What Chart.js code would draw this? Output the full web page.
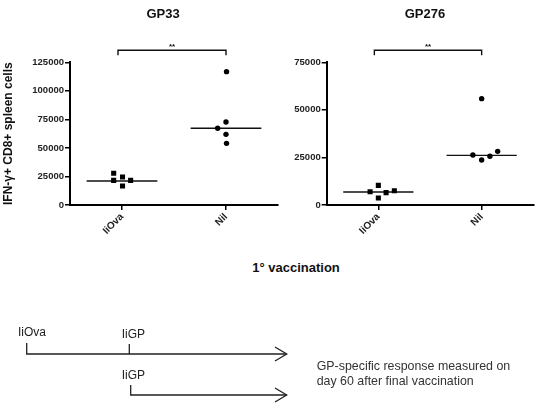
<!DOCTYPE html>
<html>
<head>
<meta charset="utf-8">
<script src="https://cdn.jsdelivr.net/npm/chart.js@4.4.1/dist/chart.umd.min.js"></script>
<style>
  body { margin: 0; background: #fff; font-family: "Liberation Sans", Arial, sans-serif; }
  #wrap { position: relative; width: 551px; height: 407px; overflow: hidden; }
  canvas { position: absolute; top: 0; }
  #c1 { left: 0; }
  #c2 { left: 275px; }
  .title { position: absolute; top: 6px; font-weight: bold; font-size: 13px; color: #111; transform: translateX(-50%); }
  #xtitle { position: absolute; left: 296px; top: 260px; font-weight: bold; font-size: 13px; color: #111; transform: translateX(-50%); white-space: nowrap; }
  svg { position: absolute; left: 0; top: 0; }
</style>
</head>
<body>
<div id="wrap">
  <canvas id="c1" width="282" height="250"></canvas>
  <canvas id="c2" width="276" height="250"></canvas>
  <div class="title" style="left:163px">GP33</div>
  <div class="title" style="left:425px">GP276</div>
  <div id="xtitle">1° vaccination</div>
  <svg width="551" height="407" font-family="Liberation Sans, Arial, sans-serif" font-size="12" fill="#222">
    <g stroke="#222" stroke-width="1.3" fill="none">
      <path d="M26.7 343 V354 H286.7" />
      <path d="M129.3 344 V354" />
      <path d="M275 347 L286.7 354 L275 361" />
      <path d="M130.7 385 V395 H286.7" />
      <path d="M275 388 L286.7 395 L275 402" />
    </g>
    <text x="18" y="336">IiOva</text>
    <text x="121.7" y="337.5">IiGP</text>
    <text x="121.7" y="379">IiGP</text>
    <text x="316.7" y="369.5" font-size="12.4" fill="#333">GP-specific response measured on</text>
    <text x="316.7" y="384.5" font-size="12.4" fill="#333">day 60 after final vaccination</text>
  </svg>
</div>
<script>
const groups = ["IiOva", "Nil"]

// GP33 values per mouse, with the horizontal scatter offset of each dot
const gp33IiOva = [27800, 21600, 24500, 16600, 21600]
const gp33IiOvaJitter = [-0.08, -0.08, 0.005, 0.005, 0.083]
const gp33Nil = [116800, 72700, 67200, 61900, 54000]
const gp33NilJitter = [0.005, 0, -0.08, 0, 0.005]
const gp33Medians = [21000, 67200]
const gp33Max = 125000

// GP276
const gp276IiOva = [7000, 10300, 3700, 6500, 7500]
const gp276IiOvaJitter = [-0.08, 0, 0, 0.075, 0.155]
const gp276Nil = [55900, 26300, 23650, 25600, 28200]
const gp276NilJitter = [0, -0.085, 0, 0.08, 0.155]
const gp276Medians = [6800, 26100]
const gp276Max = 75000

const tickStep = 25000
const medianHalf = 0.34
const font = "'Liberation Sans', Arial, sans-serif"

const bracket = {
  id: "bracket",
  afterDraw(chart) {
    const { ctx, chartArea, scales: { x } } = chart
    const x1 = x.getPixelForValue(1) - 4
    const x2 = x.getPixelForValue(2)
    const y = chartArea.top - 12
    ctx.save()
    ctx.strokeStyle = "#111"
    ctx.lineWidth = 1.4
    ctx.beginPath()
    ctx.moveTo(x1, y + 5)
    ctx.lineTo(x1, y)
    ctx.lineTo(x2, y)
    ctx.lineTo(x2, y + 5)
    ctx.stroke()
    ctx.fillStyle = "#111"
    ctx.font = "bold 8px " + font
    ctx.textAlign = "center"
    ctx.textBaseline = "middle"
    ctx.fillText("**", (x1 + x2) / 2, y - 4)
    ctx.restore()
  }
}

function points(values, jitter, pos) {
  return values.map((v, i) => ({ x: pos + jitter[i], y: v }))
}

function medianLine(v, pos) {
  return [{ x: pos - medianHalf, y: v }, { x: pos + medianHalf, y: v }]
}

function makeChart(id, ilova, ilovaJ, nil, nilJ, medians, max, yWidth, padRight, yTitle) {
  new Chart(document.getElementById(id), {
    type: "scatter",
    data: {
      datasets: [
        { data: points(ilova, ilovaJ, 1), pointStyle: "rect", pointRadius: 3.6, backgroundColor: "#000", borderWidth: 0 },
        { data: points(nil, nilJ, 2), pointStyle: "circle", pointRadius: 2.7, backgroundColor: "#000", borderWidth: 0 },
        { type: "line", data: medianLine(medians[0], 1), borderColor: "#111", borderWidth: 1.4, pointRadius: 0 },
        { type: "line", data: medianLine(medians[1], 2), borderColor: "#111", borderWidth: 1.4, pointRadius: 0 }
      ]
    },
    options: {
      responsive: false,
      animation: false,
      layout: { padding: { top: 62.3, right: padRight, bottom: 0, left: 0 } },
      plugins: { legend: { display: false }, tooltip: { enabled: false } },
      scales: {
        x: {
          type: "linear", min: 0.5, max: 2.5,
          afterBuildTicks: s => { s.ticks = [{ value: 1 }, { value: 2 }] },
          afterFit: s => { s.height = 45 },
          border: { color: "#000", width: 2 },
          grid: { drawOnChartArea: false, color: "#000", tickLength: 5, lineWidth: 1.5 },
          ticks: {
            minRotation: 45, maxRotation: 45, padding: 1,
            color: "#222", font: { family: font, size: 10, weight: "bold" },
            callback: v => groups[v - 1]
          }
        },
        y: {
          min: 0, max: max,
          afterFit: s => { s.width = yWidth },
          border: { color: "#000", width: 2 },
          grid: { drawOnChartArea: false, color: "#000", tickLength: 5, lineWidth: 1.5 },
          ticks: {
            stepSize: tickStep, padding: 1, color: "#222",
            font: { family: font, size: 9.5, weight: "bold" },
            callback: v => String(v)
          },
          title: {
            display: !!yTitle, text: yTitle, color: "#111",
            font: { family: font, size: 12, weight: "bold" },
            padding: { top: 1, bottom: 0 }
          }
        }
      }
    },
    plugins: [bracket]
  })
}

makeChart("c1", gp33IiOva, gp33IiOvaJitter, gp33Nil, gp33NilJitter, gp33Medians, gp33Max, 70, 4, "IFN-γ+ CD8+ spleen cells")
makeChart("c2", gp276IiOva, gp276IiOvaJitter, gp276Nil, gp276NilJitter, gp276Medians, gp276Max, 51.7, 17.7, "")
</script>
</body>
</html>
